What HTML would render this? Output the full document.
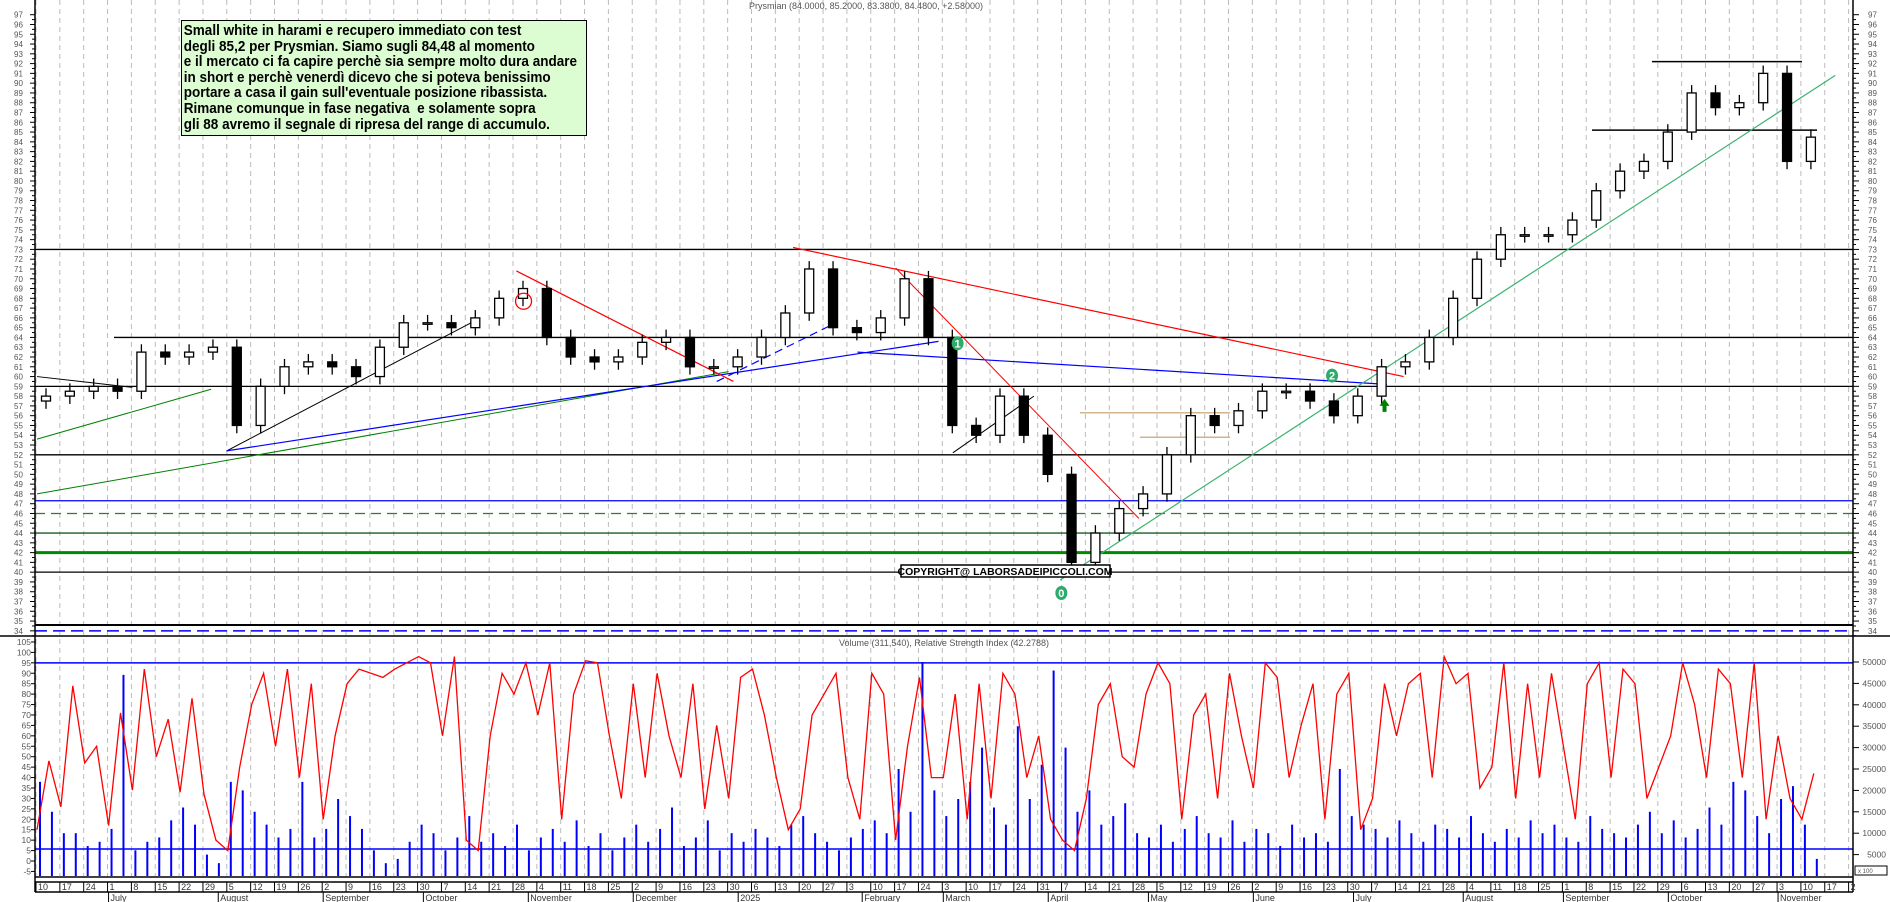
<!DOCTYPE html>
<html><head><meta charset="utf-8"><title>Prysmian chart</title>
<style>
html,body{margin:0;padding:0;background:#fff;}
#wrap{position:relative;width:1890px;height:902px;overflow:hidden;font-family:"Liberation Sans",Arial,sans-serif;}
svg text{font-family:"Liberation Sans",Arial,sans-serif;}
#note{position:absolute;left:181px;top:20px;width:406px;height:116px;background:#dcfcd2;border:1.5px solid #000;box-sizing:border-box;overflow:hidden;}
#note div{transform:scaleX(0.9);transform-origin:0 0;white-space:nowrap;font-weight:bold;font-size:15px;line-height:15.6px;color:#000;padding:2px 0 0 2px;}
</style></head>
<body>
<div id="wrap">
<svg id="chart" width="1890" height="902" viewBox="0 0 1890 902" xmlns="http://www.w3.org/2000/svg"></svg>
<div id="note"><div>Small white in harami e recupero immediato con test<br>degli 85,2 per Prysmian. Siamo sugli 84,48 al momento<br>e il mercato ci fa capire perchè sia sempre molto dura andare<br>in short e perchè venerdì dicevo che si poteva benissimo<br>portare a casa il gain sull'eventuale posizione ribassista.<br>Rimane comunque in fase negativa &nbsp;e solamente sopra<br>gli 88 avremo il segnale di ripresa del range di accumulo.</div></div>
</div>
<script>
// ---- data ----
const weekLabels = ["10","17","24","1","8","15","22","29","5","12","19","26","2","9","16","23","30","7","14","21","28","4","11","18","25","2","9","16","23","30","6","13","20","27","3","10","17","24","3","10","17","24","31","7","14","21","28","5","12","19","26","2","9","16","23","30","7","14","21","28","4","11","18","25","1","8","15","22","29","6","13","20","27","3","10","17","2"];
const monthNames = ["July","August","September","October","November","December","2025","February","March","April","May","June","July","August","September","October","November"];
const monthWeeks = [3.0,7.6,12.0,16.2,20.6,25.0,29.4,34.6,38.0,42.4,46.6,51.0,55.2,59.8,64.0,68.4,73.0];
const closes = [58,58.5,59,58.5,62.5,62,62.5,63,55,59,61,61.5,61,60,63,65.5,65.5,65,66,68,69,64,62,61.5,62,63.5,64,61,61,62,64,66.5,71,65,64.5,66,70,64,55,54,58,54,50,41,44,46.5,48,52,56,55,56.5,58.5,58.5,57.5,56,58,61,61.5,64,68,72,74.5,74.5,74.5,76,79,81,82,85,89,87.5,88,91,82,84.48];
const firstOpen = 57.5;
const rsiValues = [15,48,26,84,47,55,17,71,34,92,50,68,33,78,32,10,5,45,75,90,55,92,40,85,20,60,85,92,90,88,92,95,98,95,60,98,10,5,60,90,80,95,70,95,20,80,96,95,60,30,85,40,90,60,40,85,25,65,30,88,92,70,40,15,25,70,80,90,40,20,90,80,10,55,88,40,40,80,20,85,30,90,80,40,60,20,10,5,30,75,85,50,45,80,95,85,20,70,80,30,90,60,35,95,88,40,65,85,20,80,90,15,30,85,60,85,90,40,98,85,90,35,45,95,30,85,40,90,55,20,85,95,40,92,85,30,45,60,95,75,40,92,85,40,95,20,60,30,20,42];
const volValues = [22,15,10,10,7,8,11,47,6,8,9,13,16,12,5,3,22,20,15,12,9,11,22,9,11,18,14,11,6,3,4,8,12,10,6,9,14,8,10,7,12,6,9,11,8,13,7,10,6,9,12,8,11,16,7,9,13,6,10,8,11,9,7,12,14,10,8,6,9,11,13,10,25,15,50,20,14,18,22,30,16,12,35,18,26,48,30,15,20,12,14,17,10,9,12,8,11,14,10,9,13,8,11,10,7,12,9,10,8,25,14,12,11,9,13,10,8,12,11,9,14,10,8,11,9,13,10,12,9,8,14,11,10,9,12,15,10,13,9,11,16,12,22,20,14,10,18,21,12,4];

// ---- scales ----
const X0 = 37, WK = 23.85, LEFT = 35, RIGHT = 1853;
function xW(w){ return X0 + w*WK; }
function yP(p){ return 14.7 + (97-p)*9.78; }
function yR(r){ return 861 - r*2.086; }
function yV(v){ return 876 - v*1000*0.00428; }

const svg = document.getElementById('chart');
const NS = 'http://www.w3.org/2000/svg';
function mk(tag, attrs, parent){
  const e = document.createElementNS(NS, tag);
  for (const k in attrs) e.setAttribute(k, attrs[k]);
  (parent||svg).appendChild(e);
  return e;
}
function line(x1,y1,x2,y2,stroke,w,dash){
  const e = mk('line',{x1:x1,y1:y1,x2:x2,y2:y2,stroke:stroke,'stroke-width':w||1});
  if (dash) e.setAttribute('stroke-dasharray', dash);
  return e;
}
function txt(x,y,s,size,fill,anchor){
  const t = mk('text',{x:x,y:y,'font-size':size,fill:fill||'#444','text-anchor':anchor||'start'});
  t.textContent = s;
  return t;
}

// grid
const gGrid = mk('g',{});


for (let i=0;i<weekLabels.length;i++){
  const x = xW(i) - 1;
  if (x<LEFT || x>RIGHT) continue;
  mk('line',{x1:x,y1:0,x2:x,y2:876,stroke:'#bbb','stroke-width':1,'stroke-dasharray':'5,4'},gGrid);
}

// price horizontal levels
function hline(p,x1,x2,color,w,dash,name){
  const e = line(x1,yP(p),x2,yP(p),color,w,dash);
  
  
}
hline(73,LEFT,RIGHT,'#000',1.3,null,'resistance-73');
hline(64,114,RIGHT,'#000',1.3,null,'level-64');
hline(59,LEFT,RIGHT,'#000',1.3,null,'level-59');
hline(52,LEFT,RIGHT,'#000',1.3,null,'level-52');
hline(47.3,LEFT,RIGHT,'#0000ff',1.3,null,'level-47');
hline(46,LEFT,RIGHT,'#2e7d32',1.3,'10,6','level-46-dashed');
hline(44,LEFT,RIGHT,'#1b5e20',1.3,null,'level-44');
hline(42,LEFT,RIGHT,'#008a00',3,null,'level-42');
hline(40,LEFT,RIGHT,'#000',1.3,null,'level-40');
hline(34.6,LEFT,RIGHT,'#000',2,null,'level-34-6');
hline(34,LEFT,RIGHT,'#0000ff',1.5,'12,6','level-34-dashed');
hline(92.2,1652,1802,'#000',1.5,null,'range-top-92');
hline(85.2,1592,1817,'#000',1.5,null,'range-bottom-85');
hline(56.3,1080,1230,'#d2b48c',1.5,null,'range-tan-upper');
hline(53.8,1140,1230,'#d2b48c',1.5,null,'range-tan-lower');

// trendlines (week index, price)
function tl(w1,p1,w2,p2,color,w,dash,name){
  const e = line(xW(w1),yP(p1),xW(w2),yP(p2),color,w,dash);
  
  
}
tl(0,60,4,58.9,'#000',1,null,'trendline-black-1');
tl(0,53.6,7.3,58.7,'#008000',1,null,'trendline-green-1');
tl(0,48,29,60.5,'#008000',1,null,'trendline-green-2');
tl(7.95,52.4,18.2,65.5,'#000',1,null,'trendline-black-2');
tl(7.95,52.4,37.8,63.6,'#0000ff',1.2,null,'trendline-blue-1');
tl(34.4,62.5,56.6,59.2,'#0000ff',1.2,null,'trendline-blue-2');
tl(28.5,59.5,33.5,65.5,'#0000ff',1.2,'8,5','trendline-blue-dashed');
tl(20.1,70.8,29.2,59.5,'#ff0000',1.2,null,'trendline-red-1');
tl(31.7,73.2,57.3,60,'#ff0000',1.2,null,'trendline-red-2');
tl(36,71.1,46.2,45.5,'#ff0000',1,null,'trendline-red-steep');
tl(38.4,52.2,41.8,58,'#000',1,null,'trendline-black-3');
tl(42.9,39.2,75.4,90.8,'#3cb371',1.2,null,'trendline-green-up');

// candles
const gC = mk('g',{});


for (let i=0;i<closes.length;i++){
  const o = i===0 ? firstOpen : closes[i-1];
  const c = closes[i];
  const hi = Math.max(o,c)+0.8, lo = Math.min(o,c)-0.8;
  const x = xW(i)+9;
  const g = mk('g',{},gC);
  
  
  mk('line',{x1:x,y1:yP(hi),x2:x,y2:yP(lo),stroke:'#000','stroke-width':1.3},g);
  const top = yP(Math.max(o,c)), bot = yP(Math.min(o,c));
  mk('rect',{x:x-4.5,y:top,width:9,height:Math.max(bot-top,1.5),fill:c>=o?'#fff':'#000',stroke:'#000','stroke-width':1.3},g);
}

// markers
const c1 = mk('circle',{cx:xW(20.4),cy:yP(67.7),r:8,fill:'none',stroke:'#ff0000','stroke-width':1.3});


function badge(x,y,s,name){
  const g = mk('g',{});
  
  
  mk('ellipse',{cx:x,cy:y,rx:6,ry:7,fill:'#2eaa6a'},g);
  const t = mk('text',{x:x,y:y+4,'font-size':11,'font-weight':'bold',fill:'#fff','text-anchor':'middle'},g);
  t.textContent = s;
}
badge(xW(42.95),593,'0','wave-label-0');
badge(xW(38.6),yP(63.4),'1','wave-label-1');
badge(xW(54.3),yP(60.1),'2','wave-label-2');
const arr = mk('path',{d:'M0,-7 L5,0 L2,0 L2,6 L-2,6 L-2,0 L-5,0 Z',fill:'#008000',transform:'translate('+xW(56.5)+','+yP(57)+')'});



// copyright
const cg = mk('g',{});


mk('rect',{x:901,y:565,width:209,height:12,fill:'#fff',stroke:'#000','stroke-width':1.5},cg);
const ct = mk('text',{x:1005,y:575,'font-size':10.5,'font-weight':'bold',fill:'#000','text-anchor':'middle'},cg);
ct.textContent = 'COPYRIGHT@ LABORSADEIPICCOLI.COM';

// titles
const t1 = txt(866,9,'Prysmian (84.0000, 85.2000, 83.3800, 84.4800, +2.58000)',9,'#555','middle');


const t2 = txt(944,646,'Volume (311,540), Relative Strength Index (42.2788)',9,'#555','middle');



// lower panel
line(LEFT,yR(95),RIGHT,yR(95),'#0000ff',1.5);
const gV = mk('g',{});


const vStep = WK/2;
for (let i=0;i<volValues.length;i++){
  const x = X0 + 3 + i*vStep;
  mk('line',{x1:x,y1:876,x2:x,y2:yV(volValues[i]),stroke:'#0000ff','stroke-width':2},gV);
}
line(LEFT,849,RIGHT,849,'#0000ff',1.5);
let d = '';
for (let i=0;i<rsiValues.length;i++){
  const x = X0 + i*vStep;
  d += (i?'L':'M') + x.toFixed(1) + ',' + yR(rsiValues[i]).toFixed(1);
}
const rp = mk('path',{d:d,fill:'none',stroke:'#ff0000','stroke-width':1.3});



// frame
line(LEFT,0,LEFT,892,'#000',1.5);
line(RIGHT,0,RIGHT,892,'#000',1.5);
line(0,636,1890,636,'#000',1.5);
line(LEFT,877,RIGHT,877,'#000',1.5);
line(LEFT,882,RIGHT,882,'#000',1.5);
line(LEFT,892,RIGHT,892,'#000',1.5);

// price axis labels
for (let p=34;p<=97;p++){
  const y = yP(p);
  const a = txt(14,y+3,String(p),8,'#555');  
  const b = txt(1868,y+3,String(p),8,'#555');  
  line(LEFT-5,y,LEFT,y,'#000',1);
  line(RIGHT,y,RIGHT+6,y,'#000',1);
  line(LEFT-3,y+4.9,LEFT,y+4.9,'#000',1);
  line(RIGHT,y+4.9,RIGHT+3,y+4.9,'#000',1);
}
for (let r=-5;r<=105;r+=5){
  const y = yR(r);
  const a = txt(31,y+3,String(r),8.5,'#555','end');
  
  
  line(LEFT-4,y,LEFT,y,'#000',1);
}
for (let v=5;v<=50;v+=5){
  const y = yV(v);
  const a = txt(1886,y+3,String(v*1000),8.5,'#555','end');
  
  
  line(RIGHT,y,RIGHT+6,y,'#000',1);
}
const xb = mk('rect',{x:1855,y:866,width:32,height:9,fill:'#fff',stroke:'#000','stroke-width':1});


txt(1858,873,'x 100',6,'#555');

// date axis
for (let i=0;i<weekLabels.length;i++){
  const x = xW(i) - 1;
  if (x>RIGHT) continue;
  line(x,882,x,892,'#000',1);
  const t = txt(x+2,890,weekLabels[i],9,'#333');
  
  
}
for (let i=0;i<monthNames.length;i++){
  const x = xW(monthWeeks[i]);
  line(x,892,x,902,'#000',1);
  const t = txt(x+2,901,monthNames[i],9,'#333');
  
  
}
</script>
</body></html>
